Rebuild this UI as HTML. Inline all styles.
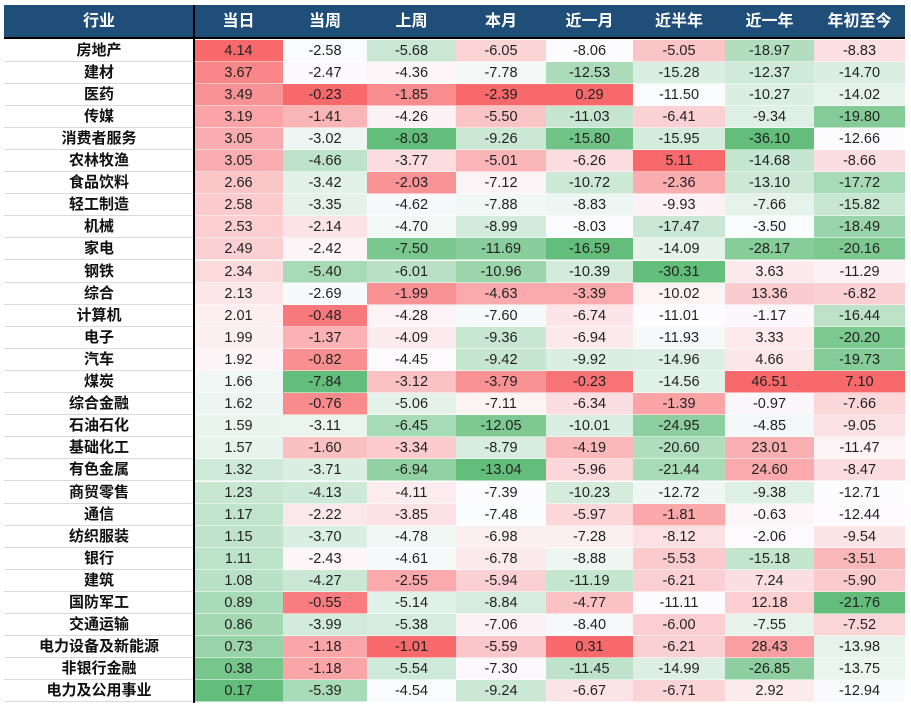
<!DOCTYPE html>
<html><head><meta charset="utf-8">
<style>
html,body{margin:0;padding:0;background:#fff;width:911px;height:709px;overflow:hidden}
#t{position:absolute;left:0;top:0;width:911px;height:709px}
.c{position:absolute;box-sizing:border-box;text-align:center;font-family:"Liberation Sans","Noto Sans CJK SC",sans-serif;white-space:nowrap}
.h{background:#1F4E79;color:#fff;font-weight:bold;font-size:16px;line-height:33px;top:5px;height:33px}
.n{font-weight:bold;font-size:15px;color:#111;border-bottom:1px solid #d9d9d9;background:#fff}
.v{font-size:14.5px;color:#222;border-bottom:1px solid rgba(255,255,255,0.5)}
</style></head><body>
<div id="t"></div>
<script>
const headers=["行业","当日","当周","上周","本月","近一月","近半年","近一年","年初至今"];
const industries=["房地产","建材","医药","传媒","消费者服务","农林牧渔","食品饮料","轻工制造","机械","家电","钢铁","综合","计算机","电子","汽车","煤炭","综合金融","石油石化","基础化工","有色金属","商贸零售","通信","纺织服装","银行","建筑","国防军工","交通运输","电力设备及新能源","非银行金融","电力及公用事业"];
const day=[4.14,3.67,3.49,3.19,3.05,3.05,2.66,2.58,2.53,2.49,2.34,2.13,2.01,1.99,1.92,1.66,1.62,1.59,1.57,1.32,1.23,1.17,1.15,1.11,1.08,0.89,0.86,0.73,0.38,0.17];
const week=[-2.58,-2.47,-0.23,-1.41,-3.02,-4.66,-3.42,-3.35,-2.14,-2.42,-5.40,-2.69,-0.48,-1.37,-0.82,-7.84,-0.76,-3.11,-1.60,-3.71,-4.13,-2.22,-3.70,-2.43,-4.27,-0.55,-3.99,-1.18,-1.18,-5.39];
const lastWeek=[-5.68,-4.36,-1.85,-4.26,-8.03,-3.77,-2.03,-4.62,-4.70,-7.50,-6.01,-1.99,-4.28,-4.09,-4.45,-3.12,-5.06,-6.45,-3.34,-6.94,-4.11,-3.85,-4.78,-4.61,-2.55,-5.14,-5.38,-1.01,-5.54,-4.54];
const month=[-6.05,-7.78,-2.39,-5.50,-9.26,-5.01,-7.12,-7.88,-8.99,-11.69,-10.96,-4.63,-7.60,-9.36,-9.42,-3.79,-7.11,-12.05,-8.79,-13.04,-7.39,-7.48,-6.98,-6.78,-5.94,-8.84,-7.06,-5.59,-7.30,-9.24];
const oneMonth=[-8.06,-12.53,0.29,-11.03,-15.80,-6.26,-10.72,-8.83,-8.03,-16.59,-10.39,-3.39,-6.74,-6.94,-9.92,-0.23,-6.34,-10.01,-4.19,-5.96,-10.23,-5.97,-7.28,-8.88,-11.19,-4.77,-8.40,0.31,-11.45,-6.67];
const halfYear=[-5.05,-15.28,-11.50,-6.41,-15.95,5.11,-2.36,-9.93,-17.47,-14.09,-30.31,-10.02,-11.01,-11.93,-14.96,-14.56,-1.39,-24.95,-20.60,-21.44,-12.72,-1.81,-8.12,-5.53,-6.21,-11.11,-6.00,-6.21,-14.99,-6.71];
const oneYear=[-18.97,-12.37,-10.27,-9.34,-36.10,-14.68,-13.10,-7.66,-3.50,-28.17,3.63,13.36,-1.17,3.33,4.66,46.51,-0.97,-4.85,23.01,24.60,-9.38,-0.63,-2.06,-15.18,7.24,12.18,-7.55,28.43,-26.85,2.92];
const ytd=[-8.83,-14.70,-14.02,-19.80,-12.66,-8.66,-17.72,-15.82,-18.49,-20.16,-11.29,-6.82,-16.44,-20.20,-19.73,7.10,-7.66,-9.05,-11.47,-8.47,-12.71,-12.44,-9.54,-3.51,-5.90,-21.76,-7.52,-13.98,-13.75,-12.94];
const series=[day,week,lastWeek,month,oneMonth,halfYear,oneYear,ytd];
const colKeys=["day","week","last-week","month","one-month","half-year","one-year","ytd"];

const colX=[4,194,283,367,456,546,633,725,814,905];
const top0=39.5, rh=22.1;
const T=document.getElementById('t');
function mix(a,b,t){return a.map((v,i)=>Math.round(v+(b[i]-v)*t));}
const RED=[248,105,107],WHITE=[252,252,255],GREEN=[99,190,123];
function colorFor(v,arr){
  const s=[...arr].sort((a,b)=>a-b);const n=s.length;
  const mn=s[0],mx=s[n-1];
  const md=n%2?s[(n-1)/2]:(s[n/2-1]+s[n/2])/2;
  let c;
  if(v>=md){c=mix(WHITE,RED,mx===md?0:(v-md)/(mx-md));}
  else{c=mix(WHITE,GREEN,(md-v)/(md-mn));}
  return 'rgb('+c.join(',')+')';
}
headers.forEach((h,i)=>{
  const d=document.createElement('div');
  d.className='c h';
  
  
  d.style.left=colX[i]+'px';d.style.width=(colX[i+1]-colX[i])+'px';
  d.textContent=h;T.appendChild(d);
});
industries.forEach((name,r)=>{
  const y=top0+r*rh;
  const d=document.createElement('div');
  d.className='c n';
  
  
  d.style.left=colX[0]+'px';d.style.width=(colX[1]-colX[0])+'px';
  d.style.top=y+'px';d.style.height=rh+'px';d.style.lineHeight=rh+'px';
  d.textContent=name;T.appendChild(d);
  series.forEach((arr,ci)=>{
    const v=arr[r];
    const e=document.createElement('div');
    e.className='c v';
    
    
    e.style.left=colX[ci+1]+'px';e.style.width=(colX[ci+2]-colX[ci+1])+'px';
    e.style.top=y+'px';e.style.height=rh+'px';e.style.lineHeight=rh+'px';
    e.style.background=colorFor(v,arr);
    e.textContent=v.toFixed(2);T.appendChild(e);
  });
});
const hl=document.createElement('div');


hl.style.cssText='position:absolute;left:4px;width:901px;top:37px;height:2px;background:#000';
T.appendChild(hl);
const vl=document.createElement('div');


vl.style.cssText='position:absolute;left:193px;width:2px;top:5px;height:698px;background:#000';
T.appendChild(vl);
</script>
</body></html>
